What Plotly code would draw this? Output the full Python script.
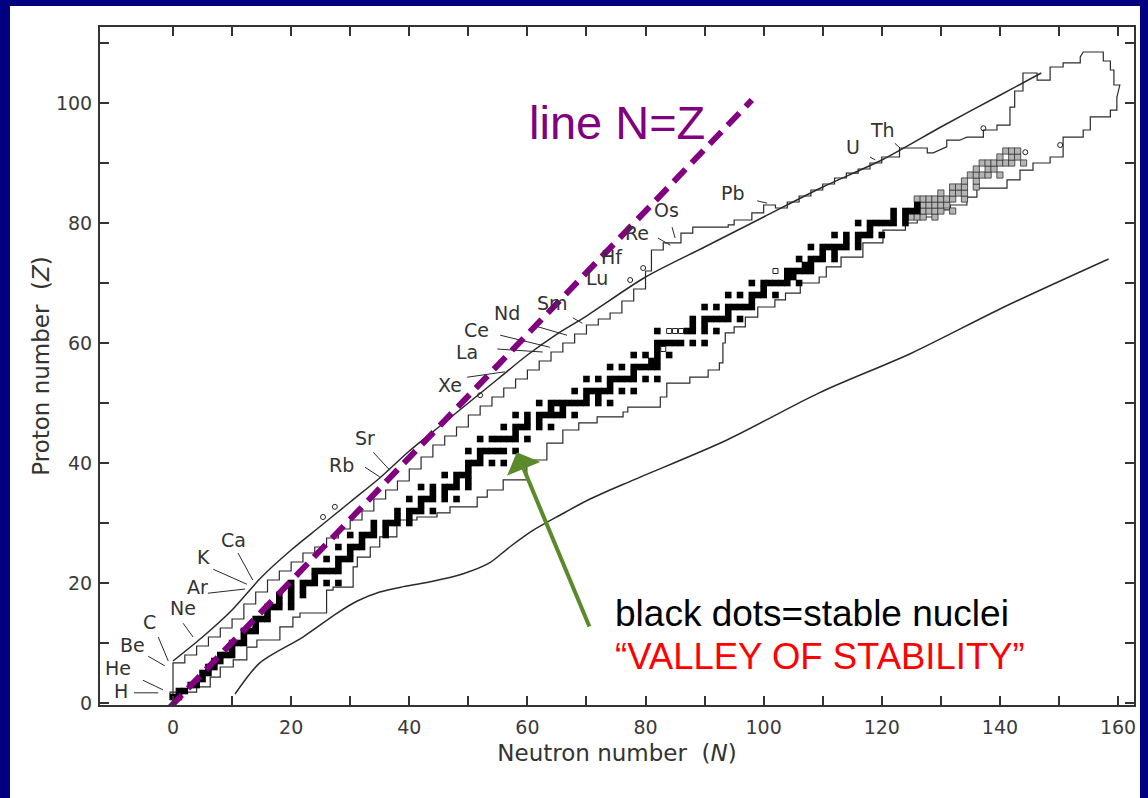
import plotly.graph_objects as go

# ---------------- data ----------------
# stable nuclides: proton number and list of neutron numbers
stable_Z = [1,2,3,4,5,6,7,8,9,10,11,12,13,14,15,16,17,18,19,20,21,22,23,24,25,26,27,28,29,30,
            31,32,33,34,35,36,37,38,39,40,41,42,44,45,46,47,48,49,50,51,52,53,54,55,56,57,58,59,60,
            62,63,64,65,66,67,68,69,70,71,72,73,74,75,76,77,78,79,80,81,82,83]
stable_N = [
    [0,1],[1,2],[3,4],[5],[5,6],[6,7],[7,8],[8,9,10],[10],[10,11,12],
    [12],[12,13,14],[14],[14,15,16],[16],[16,17,18,20],[18,20],[18,20,22],[20,22],[20,22,23,24,26,28],
    [24],[24,25,26,27,28],[28],[26,28,29,30],[30],[28,30,31,32],[32],[30,32,33,34,36],[34,36],[34,36,37,38,40],
    [38,40],[38,40,41,42,44],[42],[40,42,43,44,46,48],[44,46],[42,44,46,47,48,50],[48,50],[46,48,49,50],[50],[50,51,52,54,56],
    [52],[50,52,53,54,55,56,58],
    [52,54,55,56,57,58,60],[58],[56,58,59,60,62,64],[60,62],[58,60,62,63,64,65,66,68],[64,66],[62,64,65,66,67,68,69,70,72,74],[70,72],
    [68,70,71,72,73,74,76,78],[74],[70,72,74,75,76,77,78,80,82],[78],[74,76,78,79,80,81,82],[81,82],[78,80,82,84],[82],[82,83,84,85,86,88,90],
    [82,87,88,90,92],
    [88,90],[88,90,91,92,93,94,96],[94],[90,92,94,95,96,97,98],[98],[94,96,98,99,100,102],[100],[98,100,101,102,103,104,106],[104,105],[104,105,106,107,108],
    [107,108],[106,108,109,110,112],[110,112],[108,110,111,112,113,114,116],[114,116],[112,114,116,117,118,120],[118],[116,118,119,120,121,122,124],[122,124],[122,124,125,126],
    [126],
]

# naturally occurring long-lived radioactive nuclides (grey squares)
grey_Z = [81, 82, 83, 84, 85, 86, 87, 88, 89, 90, 91, 92]
grey_N = [
    [125,126,127,129],
    [127,128,129,130,132],
    [127,128,129,130,131],
    [126,127,128,129,130,131,132,134],
    [130,132,133,134],
    [132,133,134,136],
    [134,136],
    [135,136,137,138,140],
    [136,138,139],
    [137,138,139,140,141,142,144],
    [140,142,143],
    [141,142,143],
]

# open squares and open circles
open_sq_N = [84, 85, 86, 83, 102]
open_sq_Z = [62, 62, 62, 59, 72]
open_ci_N = [25.4, 27.4, 52.0, 77.4, 79.6, 137.2, 144.3, 150.2]
open_ci_Z = [31.0, 32.7, 51.3, 70.5, 72.5, 95.8, 91.8, 93.0]

# smooth limit curves
upper_curve_N = [0, 5, 10, 15, 20, 25, 30, 35, 40, 45, 50, 55, 60, 65, 70, 80, 90, 100, 110, 120, 130, 140, 147]
upper_curve_Z = [7, 11, 15.5, 21, 25.5, 29.5, 33.5, 37.5, 42, 46, 50, 54, 58, 61.5, 64.5, 71, 76, 81, 86, 90.5, 96, 101.3, 105]
lower_curve_N = [10.5, 14.7, 22, 27.8, 31.2, 35, 39, 44, 49, 53.5, 57, 61, 65.5, 70.6, 78, 93.7, 109.4, 125, 140.7, 158.4]
lower_curve_Z = [1.5, 6.7, 11, 15, 17.0, 18.5, 19.4, 20.3, 21.5, 23.3, 26.0, 28.8, 31.3, 34.0, 37.2, 43.8, 51.7, 58.3, 66, 74]

# staircase boundaries of known nuclei
upper_stair_N = [0, 0, 2, 4, 6, 8, 10, 12, 14, 16, 18, 20, 22, 24, 26, 28, 30, 32, 34, 36, 38, 40, 42, 44, 46, 48, 50,
                 52, 54, 56, 58, 60, 62, 64, 66, 68, 70, 72, 74, 76, 78, 80, 81, 83, 86, 88, 94, 95, 98, 100, 102,
                 104, 106, 108, 110, 112, 114, 116, 118, 120, 123]
upper_stair_Z = [1, 6.7, 8, 9.5, 11, 12.5, 14, 16.5, 18.5, 20.5, 22, 23.5, 25, 26, 27.5, 29, 30.5, 32, 34, 35.5, 37, 39,
                 41, 43, 44.5, 46, 48, 49.5, 51, 52.5, 54, 55.5, 57, 58.5, 60, 61.5, 63, 64, 65, 67, 69, 72, 75.5,
                 76.7, 78.3, 79.3, 79.7, 80.5, 81.7, 83, 82.5, 83.5, 84.5, 85.5, 86.5, 87.5, 88.3, 89, 90, 91, 92.5]
top_loop_N = [123.1, 127.7, 127.7, 128.7, 131, 131, 133.2, 134.4, 137.2, 137.2, 139.5, 139.5, 141.7, 141.7, 142.5,
              142.5, 143.9, 143.9, 146.3, 146.3, 148.5, 148.5, 150.7, 150.7, 153.6, 153.6, 154.1, 157.5, 157.5,
              158.7, 158.7, 159.3, 159.3, 160.3, 159.8]
top_loop_Z = [92.5, 92.5, 91.7, 91.7, 92.7, 93.8, 93.8, 94.3, 94.3, 95.5, 95.5, 96.3, 96.3, 99.3, 99.3, 102, 102, 105,
              105, 103.8, 103.8, 106, 106, 106.7, 106.7, 107.7, 108.5, 108.5, 107, 107, 105.5, 105.5, 103, 103, 101]
lower_stair_N = [-0.5, -0.5, 4, 6.3, 8, 10.2, 12.5, 14.2, 18.1, 20.3, 21.5, 26, 27.1, 30.5, 31.2, 33.4, 35, 37.9, 41.3,
                 44.7, 46.9, 51.5, 53.2, 55.9, 59.9, 63.3, 66, 68.7, 71.8, 76.2, 77, 82.5, 83.6, 87.5, 90.6, 92.5,
                 93.1, 93.5, 95, 96.9, 99, 101.9, 103.7, 106.2, 109.4, 110.6, 113.1, 116.8, 120.2, 124, 126, 129,
                 131.6, 134.4, 136.1, 141.2, 143.4, 145.6, 148.5, 150.7, 154.1, 155.3, 158.7, 159.8]
lower_stair_Z = [0.5, 1.8, 2.7, 4.3, 6, 7.2, 9.3, 10.5, 12.7, 14.3, 15, 18.8, 19.3, 22.7, 24.3, 26, 27.7, 30.5, 31,
                 31.7, 32.7, 34.3, 35.5, 37.2, 40.5, 43.3, 45.5, 46.7, 47.7, 48.5, 49.3, 51, 53.3, 54.3, 55.5, 56.7,
                 60, 61.7, 62.7, 64.3, 66, 67.2, 68.3, 70, 71, 72.7, 74.3, 76.7, 78.8, 80, 81, 82.2, 83, 84.3, 85.8,
                 87.2, 88.8, 90, 91, 94.3, 95.5, 97.7, 98.8, 101]

# N = Z reference line (dashed)
nz_N = [-0.5, 98]
nz_Z = [-0.7, 100.5]

# element labels with leader lines
elem_text = ["H", "He", "Be", "C", "Ne", "Ar", "K", "Ca", "Rb", "Sr", "Xe", "La", "Ce", "Nd", "Sm",
             "Lu", "Hf", "Re", "Os", "Pb", "U", "Th"]
elem_N = [-8.8, -9.3, -6.9, -3.9, 1.7, 4.1, 5.1, 10.2, 28.6, 32.5, 46.9, 49.8, 51.3, 56.6, 64.3,
          71.8, 74.3, 78.6, 83.6, 94.8, 115.1, 120.2]
elem_Z = [2.0, 5.8, 9.7, 13.5, 15.8, 19.3, 24.3, 27.2, 39.7, 44.2, 53.0, 58.5, 62.2, 65.0, 66.7,
          70.8, 74.3, 78.3, 82.2, 85.0, 92.7, 95.5]
lead_N0 = [-6.6, -5.1, -4.2, -2.5, 1.7, 5.9, 6.8, 11.0, 32.5, 33.9, 49.8, 54.9, 55.4, 61.8, 67.7, 82.1, 84.5, 98.9, 118.0, 122.2]
lead_Z0 = [1.7, 3.8, 7.8, 11.0, 13.3, 18.3, 22.3, 25.0, 39.3, 41.8, 54.3, 59.0, 61.3, 62.7, 64.2, 77.5, 79.3, 83.7, 91.0, 93.3]
lead_N1 = [-2.5, -1.7, -1.4, -0.8, 3.4, 12.2, 12.5, 13.5, 35.0, 36.7, 56.2, 62.6, 63.8, 66.7, 69.3, 84.2, 85.0, 100.6, 118.9, 123.1]
lead_Z1 = [1.7, 2.2, 6.2, 7.0, 11.0, 19.0, 19.8, 20.5, 37.7, 38.8, 55.2, 58.5, 59.3, 61.3, 63.3, 76.3, 77.5, 83.3, 90.5, 92.5]

# axis ticks
x_tickvals = list(range(0, 161, 10))
x_ticktext = [str(v) if v % 20 == 0 else "" for v in x_tickvals]
y_tickvals = list(range(0, 111, 10))
y_ticktext = [str(v) if (v % 20 == 0 and v <= 100) else "" for v in y_tickvals]

# ---------------- figure ----------------
NAVY = "#000080"
INK = "#2a2a2a"
AXFONT = "DejaVu Sans, Liberation Sans, Arial, sans-serif"
SANS = "Liberation Sans, Arial, sans-serif"

fig = go.Figure()

def flat(zs, ns):
    xs, ys = [], []
    for z, nl in zip(zs, ns):
        for n in nl:
            xs.append(n)
            ys.append(z)
    return xs, ys

# boundaries
fig.add_trace(go.Scatter(x=upper_stair_N, y=upper_stair_Z, mode="lines", line_shape="hv",
                         line=dict(color=INK, width=1.2), hoverinfo="skip"))
fig.add_trace(go.Scatter(x=top_loop_N, y=top_loop_Z, mode="lines",
                         line=dict(color=INK, width=1.2), hoverinfo="skip"))
fig.add_trace(go.Scatter(x=lower_stair_N, y=lower_stair_Z, mode="lines", line_shape="hv",
                         line=dict(color=INK, width=1.2), hoverinfo="skip"))
# smooth curves
fig.add_trace(go.Scatter(x=upper_curve_N, y=upper_curve_Z, mode="lines", line_shape="spline",
                         line=dict(color=INK, width=1.5, smoothing=0.8), hoverinfo="skip"))
fig.add_trace(go.Scatter(x=lower_curve_N, y=lower_curve_Z, mode="lines", line_shape="spline",
                         line=dict(color=INK, width=1.5, smoothing=0.8), hoverinfo="skip"))

# leader lines
lx, ly = [], []
for a, b, c, d in zip(lead_N0, lead_Z0, lead_N1, lead_Z1):
    lx += [a, c, None]
    ly += [b, d, None]
fig.add_trace(go.Scatter(x=lx, y=ly, mode="lines", line=dict(color=INK, width=1), hoverinfo="skip"))

# nuclides
gx, gy = flat(grey_Z, grey_N)
fig.add_trace(go.Scatter(x=gx, y=gy, mode="markers",
                         marker=dict(symbol="square", size=6.2, color="#b5b5b5",
                                     line=dict(color="#333333", width=0.8))))
sx, sy = flat(stable_Z, stable_N)
fig.add_trace(go.Scatter(x=sx, y=sy, mode="markers",
                         marker=dict(symbol="square", size=6.6, color="black", line=dict(width=0))))
fig.add_trace(go.Scatter(x=open_sq_N, y=open_sq_Z, mode="markers",
                         marker=dict(symbol="square-open", size=5, color="#222", line=dict(width=1))))
fig.add_trace(go.Scatter(x=open_ci_N, y=open_ci_Z, mode="markers",
                         marker=dict(symbol="circle-open", size=5, color="#222", line=dict(width=1))))

# N = Z dashed line
fig.add_trace(go.Scatter(x=nz_N, y=nz_Z, mode="lines",
                         line=dict(color="#800080", width=6, dash="17px,9px"), hoverinfo="skip"))

# element labels
for t, n, z in zip(elem_text, elem_N, elem_Z):
    fig.add_annotation(x=n, y=z, text=t, showarrow=False, xanchor="center", yanchor="middle",
                       font=dict(family=AXFONT, size=19, color="#333"))

# callouts
fig.add_annotation(x=59.9, y=96.8, text="line N=Z", showarrow=False, xanchor="left", yanchor="middle",
                   font=dict(family=SANS, size=47, color="#800080"))
fig.add_annotation(x=74.5, y=15.0, text="black dots=stable nuclei", showarrow=False,
                   xanchor="left", yanchor="middle", font=dict(family=SANS, size=37, color="black"))
fig.add_annotation(x=74.5, y=7.8, text="\u201cVALLEY OF STABILITY\u201d", showarrow=False,
                   xanchor="left", yanchor="middle", font=dict(family=SANS, size=36.5, color="#ff0000"))
fig.add_annotation(x=58.2, y=41.8, ax=70.6, ay=12.5, axref="x", ayref="y", xref="x", yref="y",
                   text="", showarrow=True, arrowhead=1, arrowsize=1.5, arrowwidth=4,
                   arrowcolor="#5a8a2a")

axis_common = dict(ticks="inside", ticklen=9, tickwidth=1.6, tickcolor="#333",
                   showline=True, linecolor="#333", linewidth=2, mirror="allticks",
                   showgrid=False, zeroline=False,
                   tickfont=dict(family=AXFONT, size=19, color="#3a3a3a"))

fig.update_xaxes(range=[-12.36, 162.7], tickmode="array", tickvals=x_tickvals, ticktext=x_ticktext,
                 ticklabelstandoff=4,
                 title=dict(text="Neutron number  (<i>N</i>)", standoff=8,
                            font=dict(family=AXFONT, size=23, color="#333")),
                 **axis_common)
fig.update_yaxes(range=[-0.33, 112.67], tickmode="array", tickvals=y_tickvals, ticktext=y_ticktext,
                 ticklabelstandoff=2,
                 title=dict(text="Proton number  (<i>Z</i>)", standoff=0,
                            font=dict(family=AXFONT, size=23, color="#333")),
                 **axis_common)

fig.update_layout(
    width=1148, height=798,
    margin=dict(l=100, r=14, t=27, b=93),
    paper_bgcolor=NAVY, plot_bgcolor="white",
    showlegend=False,
    shapes=[dict(type="rect", xref="paper", yref="paper", layer="below",
                 x0=(10 - 100) / 1034, x1=(1140 - 100) / 1034,
                 y0=(705 - 800) / 678, y1=(705 - 6) / 678,
                 fillcolor="white", line=dict(width=0))],
)

fig.write_html("out.html")
